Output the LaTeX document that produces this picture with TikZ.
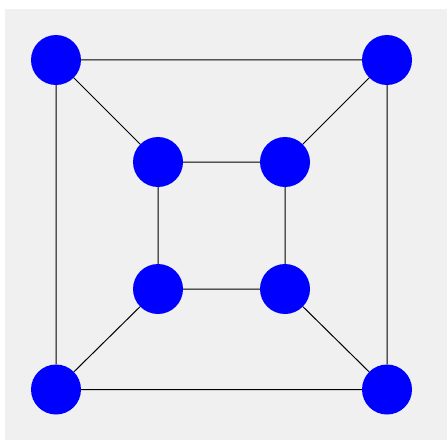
\documentclass[tikz,border=0pt]{standalone}
\begin{document}
\begin{tikzpicture}[x=1pt,y=1pt,
  vertex/.style={circle,fill=blue,draw=none,minimum size=50pt,inner sep=0pt},
  edge/.style={draw=black,line width=1pt}]
\useasboundingbox (0,0) rectangle (447,440);
\fill[white] (0,0) rectangle (447,440);
\fill[black!6] (5,0) rectangle (447,431);
\node[vertex] (a) at (56,380) {};
\node[vertex] (b) at (387,380) {};
\node[vertex] (c) at (56,50.5) {};
\node[vertex] (d) at (387,50.5) {};
\node[vertex] (e) at (158,278) {};
\node[vertex] (f) at (285,278) {};
\node[vertex] (g) at (158,151) {};
\node[vertex] (h) at (285,151) {};
\path[edge] (a) -- (b) (b) -- (d) (d) -- (c) (c) -- (a)
  (e) -- (f) (f) -- (h) (h) -- (g) (g) -- (e)
  (a) -- (e) (b) -- (f) (c) -- (g) (d) -- (h);
\end{tikzpicture}
\end{document}
